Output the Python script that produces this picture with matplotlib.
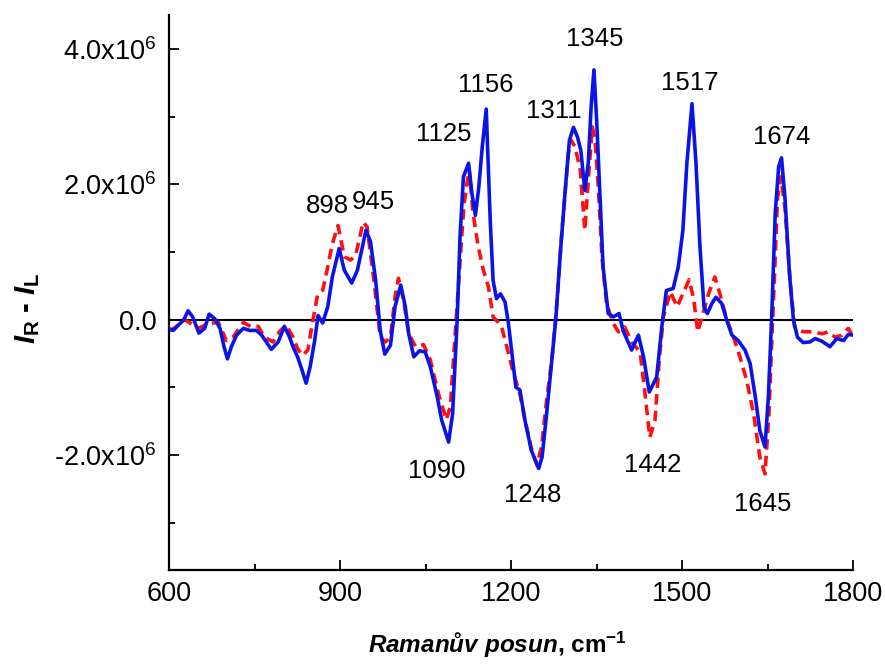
import matplotlib
matplotlib.use("Agg")
import matplotlib.pyplot as plt
import numpy as np
from matplotlib.ticker import FixedLocator, MultipleLocator

plt.rcParams["font.family"] = ["Liberation Sans", "DejaVu Sans"]
plt.rcParams["mathtext.fontset"] = "custom"
plt.rcParams["mathtext.rm"] = "Liberation Sans"
plt.rcParams["mathtext.it"] = "Liberation Sans:italic:bold"
plt.rcParams["mathtext.bf"] = "Liberation Sans:bold"

# Raman optical activity difference spectra (I_R - I_L), values in 10^6
solid_x = [600, 607, 616, 625, 633, 641, 652, 662, 670, 680, 689, 696, 702, 709, 718, 730,
           741, 753, 762, 770, 779, 791, 802, 811, 817, 825, 833, 840, 847, 855, 861, 869,
           878, 886, 898, 907, 920, 930, 945, 953, 962, 970, 978, 988, 996, 1006, 1014,
           1020, 1029, 1039, 1049, 1058, 1070, 1078, 1090, 1097, 1105, 1110, 1116, 1125,
           1131, 1137, 1143, 1149, 1156, 1163, 1168, 1174, 1181, 1189, 1195, 1201, 1208,
           1215, 1224, 1235, 1248, 1254, 1262, 1270, 1278, 1286, 1295, 1302, 1309, 1316,
           1322, 1329, 1335, 1340, 1345, 1350, 1356, 1361, 1370, 1379, 1389, 1396, 1411,
           1423, 1432, 1442, 1455, 1464, 1472, 1484, 1493, 1501, 1508, 1517, 1524, 1531,
           1538, 1544, 1552, 1559, 1569, 1578, 1587, 1598, 1610, 1619, 1628, 1636, 1645,
           1651, 1657, 1663, 1669, 1674, 1680, 1688, 1695, 1702, 1712, 1724, 1733, 1745,
           1759, 1771, 1783, 1791, 1800]
solid_y = [-0.14, -0.16, -0.08, -0.01, 0.13, 0.04, -0.20, -0.13, 0.08, 0.01, -0.13, -0.40,
           -0.58, -0.40, -0.23, -0.13, -0.16, -0.16, -0.23, -0.33, -0.44, -0.33, -0.10,
           -0.26, -0.40, -0.55, -0.75, -0.94, -0.70, -0.31, 0.06, -0.05, 0.19, 0.63, 1.05,
           0.73, 0.54, 0.73, 1.32, 1.15, 0.58, -0.16, -0.51, -0.38, 0.19, 0.51, 0.19,
           -0.21, -0.55, -0.46, -0.48, -0.70, -1.14, -1.49, -1.81, -1.39, -0.01, 1.22,
           2.11, 2.31, 1.86, 1.54, 1.96, 2.55, 3.11, 1.47, 0.58, 0.31, 0.38, 0.26, -0.06,
           -0.50, -1.00, -1.04, -1.49, -1.93, -2.20, -2.03, -1.39, -0.70, 0.00, 0.98,
           1.96, 2.65, 2.84, 2.70, 2.50, 1.91, 2.31, 3.14, 3.69, 2.90, 1.76, 0.78, 0.09,
           0.04, 0.09, -0.16, -0.45, -0.23, -0.55, -1.07, -0.85, -0.11, 0.43, 0.46, 0.78,
           1.32, 2.31, 3.19, 2.31, 1.07, 0.19, 0.09, 0.24, 0.33, 0.24, -0.01, -0.23,
           -0.31, -0.45, -0.65, -1.14, -1.64, -1.88, -1.14, 0.09, 1.57, 2.26, 2.39, 1.81,
           0.68, -0.01, -0.26, -0.34, -0.33, -0.28, -0.32, -0.40, -0.28, -0.31, -0.22,
           -0.23]

dashed_x = [600, 610, 627, 642, 651, 668, 686, 700, 712, 730, 744, 756, 767, 782, 793, 805,
            817, 825, 834, 843, 852, 860, 869, 878, 886, 896, 907, 918, 927, 940, 947, 959,
            970, 979, 988, 996, 1002, 1011, 1020, 1032, 1046, 1058, 1072, 1086, 1093, 1102,
            1111, 1117, 1126, 1133, 1142, 1151, 1160, 1168, 1177, 1183, 1192, 1204, 1215,
            1224, 1236, 1245, 1253, 1262, 1271, 1280, 1288, 1300, 1305, 1312, 1321, 1329,
            1335, 1342, 1347, 1353, 1359, 1367, 1379, 1388, 1399, 1411, 1426, 1434, 1443,
            1452, 1460, 1467, 1479, 1491, 1512, 1520, 1527, 1535, 1546, 1557, 1566, 1578,
            1590, 1601, 1613, 1625, 1636, 1645, 1652, 1657, 1662, 1667, 1673, 1680, 1689,
            1697, 1712, 1730, 1745, 1756, 1768, 1780, 1791, 1797, 1800]
dashed_y = [-0.16, -0.12, 0.00, -0.08, -0.13, -0.06, -0.04, -0.31, -0.26, -0.04, -0.11,
            -0.10, -0.26, -0.33, -0.18, -0.08, -0.26, -0.43, -0.53, -0.45, -0.01, 0.36,
            0.43, 0.78, 1.12, 1.39, 0.93, 0.88, 0.95, 1.44, 1.37, 0.58, -0.26, -0.33,
            -0.26, 0.33, 0.61, 0.29, -0.21, -0.40, -0.37, -0.60, -1.09, -1.48, -1.29,
            -0.16, 0.98, 1.70, 2.23, 1.57, 1.07, 0.73, 0.48, 0.04, -0.04, -0.11, -0.40,
            -0.80, -1.09, -1.49, -1.93, -2.15, -1.88, -1.19, -0.60, 0.24, 1.22, 2.45,
            2.65, 2.55, 2.21, 1.32, 2.06, 2.85, 2.65, 1.91, 0.93, 0.24, -0.06, -0.18,
            -0.11, -0.33, -0.48, -1.05, -1.74, -1.49, -0.55, 0.05, 0.41, 0.19, 0.59, 0.30,
            -0.18, 0.05, 0.38, 0.63, 0.38, 0.00, -0.26, -0.55, -0.90, -1.39, -2.03, -2.28,
            -1.40, -0.30, 0.70, 1.80, 2.11, 1.66, 0.58, -0.11, -0.18, -0.18, -0.21, -0.18,
            -0.26, -0.23, -0.13, -0.21, -0.20]

# Band positions (cm^-1) marked on the spectrum
bands = [898, 945, 1125, 1156, 1311, 1345, 1517, 1674, 1090, 1248, 1442, 1645]

xticks = [600, 900, 1200, 1500, 1800]
yticks = [-2.0, 0.0, 2.0, 4.0]
ytick_labels = ["-2.0x10$^{\\mathrm{6}}$", "0.0", "2.0x10$^{\\mathrm{6}}$", "4.0x10$^{\\mathrm{6}}$"]

scale = 1e6
solid_x = np.array(solid_x)
solid_y = np.array(solid_y) * scale
dashed_x = np.array(dashed_x)
dashed_y = np.array(dashed_y) * scale

fig = plt.figure(figsize=(8.85, 6.68), dpi=100)
ax = fig.add_axes([0.1913, 0.1467, 0.7729, 0.8308])

ax.axhline(0, color="black", lw=1.5, zorder=1)
ax.plot(dashed_x, dashed_y, color="#ff1010", lw=2.6, ls=(0, (2.9, 1.7)), zorder=2,
        dash_joinstyle="round", dash_capstyle="butt")
ax.plot(solid_x, solid_y, color="#0a14e6", lw=2.6, zorder=3,
        solid_joinstyle="round", solid_capstyle="round")

ax.set_xlim(600, 1800)
ax.set_ylim(-3.7e6, 4.5e6)

ax.xaxis.set_major_locator(FixedLocator(xticks))
ax.xaxis.set_minor_locator(MultipleLocator(150))
ax.yaxis.set_major_locator(FixedLocator([v * scale for v in yticks]))
ax.yaxis.set_minor_locator(MultipleLocator(1e6))
ax.set_xticklabels([str(v) for v in xticks])
ax.set_yticklabels(ytick_labels)

for side in ("top", "right"):
    ax.spines[side].set_visible(False)
for side in ("left", "bottom"):
    ax.spines[side].set_linewidth(1.6)

ax.tick_params(which="major", direction="in", length=7.5, width=1.3, labelsize=19.5, pad=8)
ax.tick_params(which="minor", direction="in", length=4.5, width=1.3)
ax.tick_params(axis="y", which="major", pad=9)

ax.set_xlabel("$\\mathit{Ramanův\\ posun}$, cm$^{\\mathbf{-1}}$", fontsize=17.5,
              fontweight="bold")
ax.xaxis.set_label_coords(0.48, -0.108)
ax.set_ylabel("$I_{\\mathbf{R}}$ - $I_{\\mathbf{L}}$", fontsize=21, fontweight="bold")
ax.yaxis.set_label_coords(-0.186, 0.472)

# Label offsets in pixels from each band's point on the solid curve
offsets = {898: (-12, 43), 945: (7, 28), 1125: (-25, 29), 1156: (0, 24), 1311: (-21, 19),
           1345: (1, 31), 1517: (-2, 21), 1674: (0, 21), 1090: (-12, -29),
           1248: (-6, -27), 1442: (3, -73), 1645: (-2, -57)}
for b in bands:
    yb = np.interp(b, solid_x, solid_y)
    ax.annotate(str(b), xy=(b, yb), xytext=offsets[b], textcoords="offset pixels",
                ha="center", va="center", fontsize=18.5)

fig.savefig("out.png", dpi=100)
